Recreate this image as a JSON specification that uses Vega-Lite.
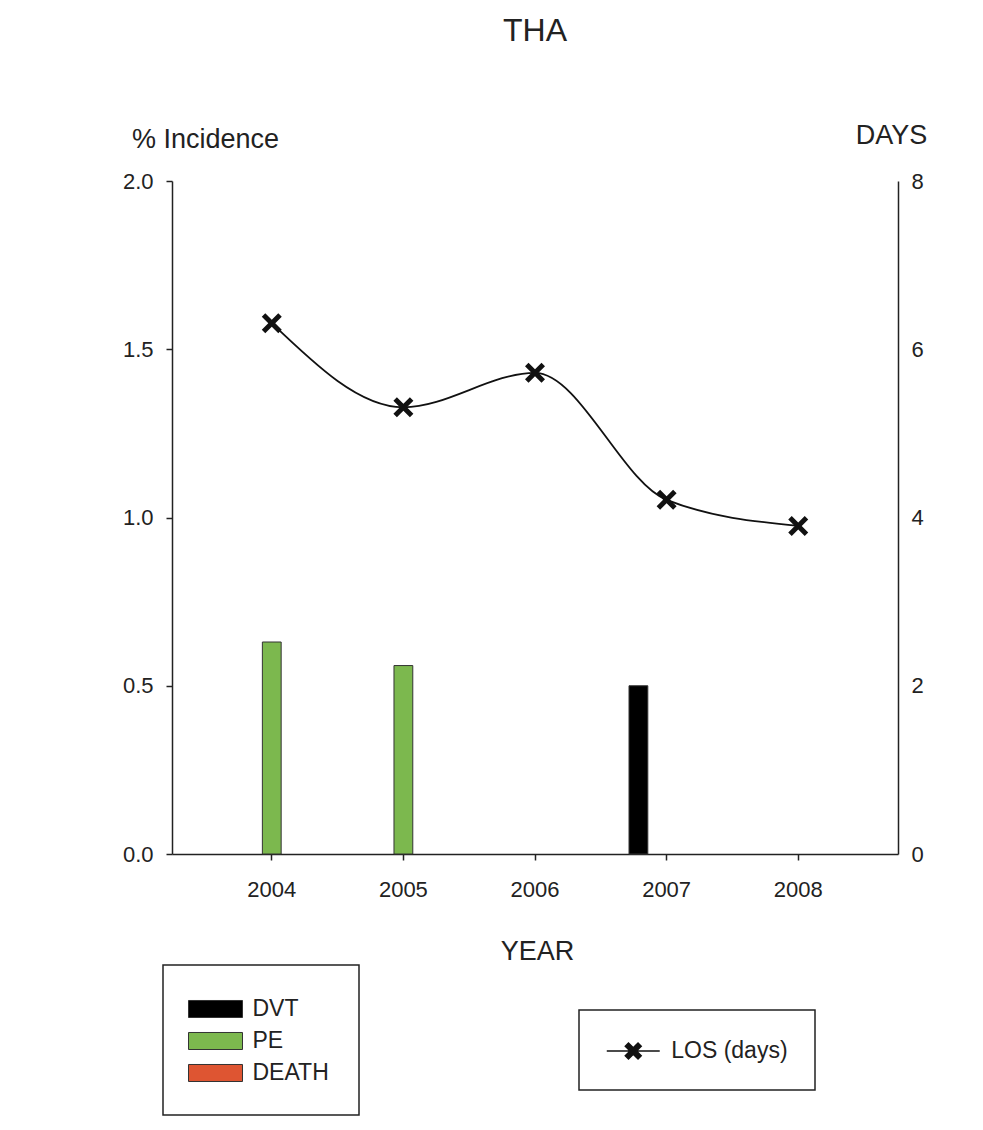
{
  "$schema": "https://vega.github.io/schema/vega-lite/v6.json",
  "width": 726,
  "height": 673,
  "autosize": {"type": "none"},
  "padding": {"left": 172, "top": 181, "right": 85, "bottom": 276},
  "background": "white",
  "title": {"text": "THA", "fontSize": 32, "fontWeight": "normal", "font": "Liberation Sans", "color": "#222", "anchor": "middle", "offset": 73},
  "datasets": {
    "bars": [
      {"year": "2004", "type": "PE", "pct": 0.63},
      {"year": "2005", "type": "PE", "pct": 0.56},
      {"year": "2007", "type": "DVT", "pct": 0.50}
    ],
    "los": [
      {"year": "2004", "series": "LOS (days)", "days": 6.31},
      {"year": "2005", "series": "LOS (days)", "days": 5.31},
      {"year": "2006", "series": "LOS (days)", "days": 5.72},
      {"year": "2007", "series": "LOS (days)", "days": 4.21},
      {"year": "2008", "series": "LOS (days)", "days": 3.90}
    ]
  },
  "layer": [
    {
      "data": {"name": "bars"},
      "mark": {"type": "bar", "stroke": "#333", "strokeWidth": 1},
      "encoding": {
        "x": {
          "field": "year", "type": "ordinal",
          "scale": {"domain": ["2004", "2005", "2006", "2007", "2008"], "paddingInner": 0, "paddingOuter": 0.258},
          "axis": {"title": "YEAR", "labelAngle": 0, "tickSize": 6, "labelPadding": 19, "labelFontSize": 22, "titleFontSize": 27, "titleFontWeight": "normal", "titleY": 97, "titleX": 365, "titleBaseline": "middle", "titleAlign": "center", "grid": false}
        },
        "xOffset": {"field": "type", "type": "nominal", "scale": {"domain": ["DVT", "PE", "DEATH"], "paddingInner": 0.333, "paddingOuter": 1.25}},
        "y": {
          "field": "pct", "type": "quantitative",
          "scale": {"domain": [0, 2]},
          "axis": {"title": "% Incidence", "titleAngle": 0, "titleX": 33, "titleY": -42, "titleAlign": "center", "titleBaseline": "middle", "titleFontSize": 27, "titleFontWeight": "normal", "values": [0, 0.5, 1, 1.5, 2], "format": ".1f", "tickSize": 6, "labelPadding": 13, "labelFontSize": 22, "grid": false}
        },
        "color": {
          "field": "type", "type": "nominal",
          "scale": {"domain": ["DVT", "PE", "DEATH"], "range": ["#000000", "#7cb84e", "#de5532"]},
          "legend": {
            "title": null, "orient": "none", "legendX": -9, "legendY": 784, "padding": 30,
            "strokeColor": "#222",
            "symbolType": "M-2,-0.63H2V0.63H-2Z", "symbolSize": 729, "symbolOffset": 8.5, "labelOffset": 23, "rowPadding": 6,
            "labelFontSize": 23, "labelFont": "Liberation Sans", "labelColor": "#222",
            "symbolStrokeColor": "#333", "symbolStrokeWidth": 1,
            "encode": {"legend": {"update": {"strokeWidth": {"value": 1.5}}}}
          }
        }
      }
    },
    {
      "data": {"name": "los"},
      "layer": [
        {
          "mark": {"type": "line", "interpolate": "monotone", "strokeWidth": 1.8, "color": "#111111"},
          "encoding": {
            "x": {"field": "year", "type": "ordinal"},
            "y": {
              "field": "days", "type": "quantitative",
              "scale": {"domain": [0, 8]},
              "axis": {"orient": "right", "title": "DAYS", "titleAngle": 0, "titleX": -7, "titleY": -46, "titleAlign": "center", "titleBaseline": "middle", "titleFontSize": 27, "titleFontWeight": "normal", "values": [0, 2, 4, 6, 8], "format": "d", "tickSize": 0, "labelPadding": 13, "labelFontSize": 22, "grid": false}
            },
            "stroke": {
              "field": "series", "type": "nominal",
              "scale": {"domain": ["LOS (days)"], "range": ["#111111"]},
              "legend": {
                "title": null, "orient": "none", "legendX": 407, "legendY": 829, "padding": 27,
                "strokeColor": "#222",
                "symbolType": "M-2,0H2M-0.6,-0.36L-0.36,-0.6L0,-0.24L0.36,-0.6L0.6,-0.36L0.24,0L0.6,0.36L0.36,0.6L0,0.24L-0.36,0.6L-0.6,0.36L-0.24,0Z",
                "symbolSize": 702, "symbolOffset": 13.25, "labelOffset": 24,
                "labelFontSize": 23, "labelFont": "Liberation Sans", "labelColor": "#222",
                "encode": {
                  "symbols": {"update": {"fill": {"value": "#111111"}, "stroke": {"value": "#111111"}, "strokeWidth": {"value": 1.5}, "opacity": {"value": 1}}},
                  "legend": {"update": {"strokeWidth": {"value": 1.5}}}
                }
              }
            }
          }
        },
        {
          "mark": {"type": "point", "shape": "M-1,-0.65L-0.65,-1L0,-0.35L0.65,-1L1,-0.65L0.35,0L1,0.65L0.65,1L0,0.35L-0.65,1L-1,0.65L-0.35,0Z", "size": 400, "filled": true, "color": "#111111", "opacity": 1},
          "encoding": {
            "x": {"field": "year", "type": "ordinal"},
            "y": {"field": "days", "type": "quantitative"}
          }
        }
      ]
    }
  ],
  "resolve": {"scale": {"y": "independent"}},
  "config": {
    "font": "Liberation Sans",
    "view": {"stroke": null},
    "axis": {"labelFont": "Liberation Sans", "titleFont": "Liberation Sans", "labelColor": "#222", "titleColor": "#222", "domainColor": "#222", "tickColor": "#222", "domainWidth": 1.5, "tickWidth": 1.5}
  }
}
